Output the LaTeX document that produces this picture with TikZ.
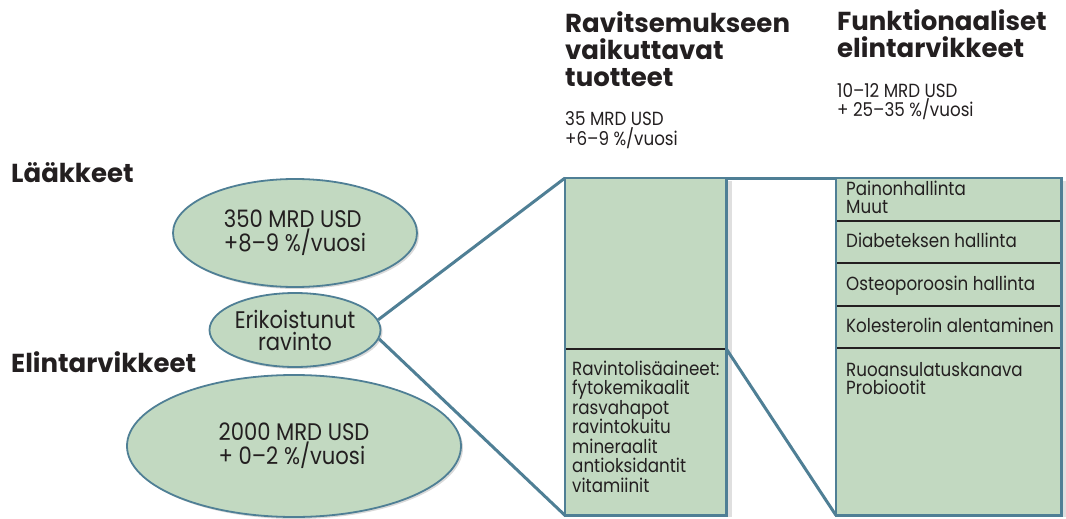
\documentclass[tikz,border=0pt]{standalone}
\usepackage{fontspec}
\setmainfont{Poppins}
\newfontfamily\bodyfont{Poppins}[FakeStretch=0.88, Ligatures=TeX]
\usetikzlibrary{shapes.geometric,shadows}

\definecolor{sage}{HTML}{C2D9C1}
\definecolor{steel}{HTML}{4F7F95}
\definecolor{ink}{HTML}{231F20}

\tikzset{
  blob/.style={ellipse, draw=steel, line width=1.8pt, fill=sage, inner sep=0pt,
    drop shadow={shadow xshift=2pt, shadow yshift=-2pt, opacity=.3}},
  cell/.style={rectangle, fill=sage, inner sep=0pt, anchor=north west},
  outline/.style={draw=steel, line width=2.6pt},
  divider/.style={draw=ink, line width=1.2pt},
  link/.style={draw=steel, line width=3pt},
  small/.style={font=\bodyfont\fontsize{19}{18}\selectfont, text=ink, inner sep=0pt, align=left},
  large/.style={font=\bodyfont\fontsize{24}{22}\selectfont, text=ink},
  head/.style={font=\fontsize{26}{27}\selectfont\bfseries, text=ink, inner sep=0pt, align=left}
}

\begin{document}
\begin{tikzpicture}[x=1pt, y=-1pt]

        \useasboundingbox (0,0) rectangle (1066,519);

        \begin{scope}[every node/.style={blob, large}]
          \node[minimum width=244, minimum height=108, align=left] (drugs) at (295,233)
            {350 MRD USD\\+8–9 \%/vuosi};
          \node[minimum width=334, minimum height=142, align=left] (food) at (294,446)
            {2000 MRD USD\\+ 0–2 \%/vuosi};
          \node[minimum width=171, minimum height=74, align=center] (special) at (295,330)
            {Erikoistunut\\ravinto};
        \end{scope}

        \begin{scope}[every node/.style={cell}]
          \node[minimum width=161, minimum height=171] (m1) at (565,178) {};
          \node[minimum width=161, minimum height=166] (m2) at (565,349) {};
          \node[minimum width=225, minimum height=43]  (r1) at (836,178) {};
          \node[minimum width=225, minimum height=42]  (r2) at (836,221) {};
          \node[minimum width=225, minimum height=43]  (r3) at (836,263) {};
          \node[minimum width=225, minimum height=42]  (r4) at (836,306) {};
          \node[minimum width=225, minimum height=167] (r5) at (836,348) {};
        \end{scope}

        \fill[gray, opacity=.25] (728,181) rectangle (732,517);
        \fill[gray, opacity=.25] (1063,181) rectangle (1066,517);

        \draw[divider] (m2.north west) -- (m2.north east);
        \draw[divider] (r2.north west) -- (r2.north east);
        \draw[divider] (r3.north west) -- (r3.north east);
        \draw[divider] (r4.north west) -- (r4.north east);
        \draw[divider] (r5.north west) -- (r5.north east);

        \draw[outline] (m1.north west) rectangle (m2.south east);
        \draw[outline] (r1.north west) rectangle (r5.south east);

        \begin{scope}[every edge/.style={link}]
          \path (special.7)    edge (m1.north west);
          \path (special.-6)   edge (m2.south west);
          \path (m1.north east) edge (r1.north west);
          \path (m2.north east) edge (r5.south west);
        \end{scope}

        \begin{scope}[every node/.style={head, anchor=base west}]
          \node (h1) at (11,182) {Lääkkeet};
          \node (h2) at (11,372) {Elintarvikkeet};
          \node (h3) at (565,86) {Ravitsemukseen\\vaikuttavat\\tuotteet};
          \node (h4) at (837,58) {Funktionaaliset\\elintarvikkeet};
        \end{scope}

        \begin{scope}[every node/.style={small, anchor=base west}]
          \node (s1) at (565,145) {35 MRD USD\\+6–9 \%/vuosi};
          \node (s2) at (837,117) {10–12 MRD USD\\+ 25–35 \%/vuosi};
          \node[font=\bodyfont\fontsize{19}{19.5}\selectfont] (t0) at (572,492)
            {Ravintolisäaineet:\\fytokemikaalit\\rasvahapot\\ravintokuitu\\mineraalit\\antioksidantit\\vitamiinit};
          \node (t1) at (846,213) {Painonhallinta\\Muut};
          \node (t2) at (846,247) {Diabeteksen hallinta};
          \node (t3) at (846,290) {Osteoporoosin hallinta};
          \node (t4) at (846,332) {Kolesterolin alentaminen};
          \node (t5) at (846,394) {Ruoansulatuskanava\\Probiootit};
        \end{scope}

\end{tikzpicture}
\end{document}
